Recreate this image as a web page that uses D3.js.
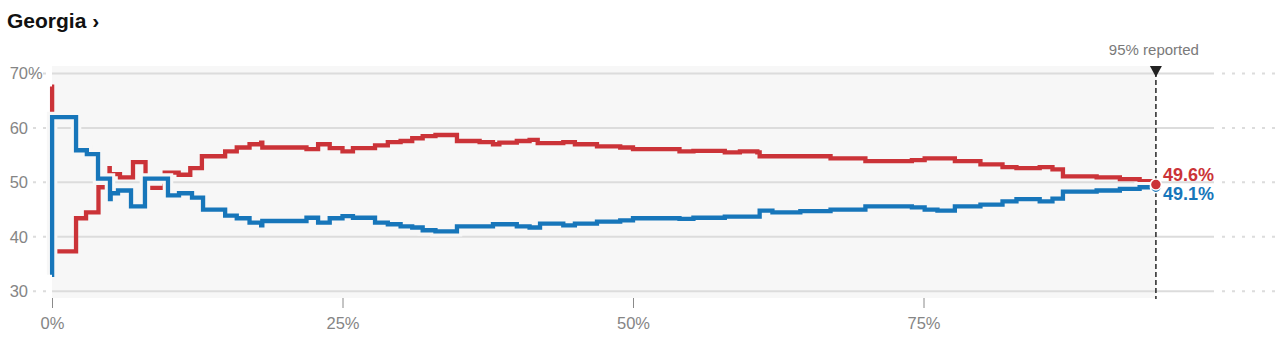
<!DOCTYPE html>
<html>
<head>
<meta charset="utf-8">
<script src="https://cdn.jsdelivr.net/npm/d3@7"></script>
<style>
  body { margin: 0; background: #fff; }
  svg { display: block; font-family: "Liberation Sans", Arial, Helvetica, sans-serif; }
</style>
</head>
<body>
<svg id="chart" width="1280" height="340"></svg>
<script>
// Race title and axis ticks
const stateName = "Georgia";
const yTicks = [30, 40, 50, 60, 70];
const xTicks = [0, 25, 50, 75];
const reportedNow = 95;

// Vote share (%) as the count progressed: [share of expected vote reported, candidate share]
const repSteps = [
  [0, 67.6], [0.01, 37.3], [2.07, 43.4], [2.93, 44.5], [4.0, 49.1], [4.95, 52.6], [4.97, 51.5],
  [5.85, 50.9], [6.97, 53.7], [8.05, 49.0], [9.7, 51.8], [10.9, 51.4], [11.9, 52.6], [12.9, 54.8],
  [14.9, 55.7], [15.9, 56.4], [17.0, 57.0], [18.0, 57.3], [18.1, 56.4], [21.9, 56.1], [22.9, 57.0],
  [23.9, 56.3], [25.0, 55.7], [25.9, 56.3], [27.8, 56.8], [28.9, 57.4], [30.0, 57.6], [31.0, 58.1],
  [31.9, 58.5], [33.0, 58.7], [34.85, 57.6], [36.8, 57.4], [37.95, 57.0], [38.5, 57.3], [40.0, 57.6],
  [41.1, 57.8], [41.8, 57.2], [44.0, 57.4], [45.0, 57.0], [46.9, 56.6], [48.9, 56.4], [50.0, 56.1],
  [54.0, 55.7], [55.2, 55.8], [57.9, 55.5], [59.2, 55.7], [60.7, 55.5], [60.9, 54.8], [67.0, 54.4],
  [70.0, 53.9], [74.0, 54.1], [75.1, 54.4], [77.7, 53.9], [79.9, 53.3], [81.8, 52.8], [83.0, 52.6],
  [85.0, 52.8], [86.1, 52.4], [87.0, 51.1], [89.9, 50.9], [91.9, 50.6], [93.6, 50.2], [95.0, 49.6]
];
const demSteps = [
  [0, 33.0], [0.01, 62.0], [2.07, 55.9], [3.0, 55.2], [3.96, 50.7], [4.99, 46.9], [5.05, 48.0],
  [5.68, 48.5], [6.8, 45.6], [8.0, 50.7], [9.98, 47.6], [10.93, 48.0], [12.05, 47.2], [13.0, 45.0],
  [14.9, 43.9], [15.9, 43.4], [17.0, 42.6], [18.0, 42.1], [18.1, 42.9], [21.9, 43.5], [22.9, 42.6],
  [23.9, 43.4], [25.0, 43.8], [25.9, 43.5], [27.8, 42.6], [28.9, 42.3], [30.0, 41.9], [31.0, 41.7],
  [31.9, 41.2], [33.0, 41.0], [34.85, 41.9], [37.95, 42.3], [40.0, 41.9], [41.1, 41.7], [42.0, 42.4],
  [44.0, 42.1], [45.0, 42.4], [46.9, 42.8], [48.9, 43.0], [50.0, 43.4], [54.0, 43.3], [55.2, 43.5],
  [57.9, 43.7], [60.9, 44.8], [62.0, 44.5], [64.4, 44.7], [67.0, 45.0], [70.0, 45.6], [74.0, 45.4],
  [75.1, 45.0], [76.2, 44.8], [77.7, 45.6], [79.9, 45.9], [81.8, 46.5], [83.0, 46.9], [85.0, 46.5],
  [86.1, 47.0], [87.0, 48.3], [89.9, 48.5], [91.9, 48.8], [93.6, 49.1], [95.0, 49.1]
];

const repColor = "#cb3338";
const demColor = "#1776ba";
const plotBg = "#f7f7f7";
const gridColor = "#dcdcdc";
const labelColor = "#858585";

const svg = d3.select("#chart");
const x = d3.scaleLinear().domain([0, 100]).range([52, 1214]);
const y = d3.scaleLinear().domain([30, 70]).range([291.2, 73.5]);

// Title
svg.append("text")
  .attr("x", 7).attr("y", 28)
  .attr("font-size", 21).attr("font-weight", "bold").attr("fill", "#111")
  .text(stateName + " \u203A");

// Shaded area up to the share reported so far
svg.append("rect")
  .attr("x", x(0)).attr("y", 66)
  .attr("width", x(reportedNow) - x(0)).attr("height", 232)
  .attr("fill", plotBg);

// Horizontal gridlines with dotted lead-ins on both sides
const grid = svg.append("g");
yTicks.forEach(t => {
  grid.append("line")
    .attr("x1", x(0)).attr("x2", x(100)).attr("y1", y(t)).attr("y2", y(t))
    .attr("stroke", gridColor).attr("stroke-width", 2);
  grid.append("line")
    .attr("x1", x(100) + 8).attr("x2", 1280).attr("y1", y(t)).attr("y2", y(t))
    .attr("stroke", gridColor).attr("stroke-width", 2).attr("stroke-dasharray", "3,7");
  grid.append("line")
    .attr("x1", 33).attr("x2", 50).attr("y1", y(t)).attr("y2", y(t))
    .attr("stroke", gridColor).attr("stroke-width", 2).attr("stroke-dasharray", "3,7");
});

// Y labels: numbers right-aligned, percent sign on the top one only
const yLab = svg.append("g").attr("font-size", 16.5).attr("fill", labelColor);
yTicks.forEach(t => {
  yLab.append("text")
    .attr("x", 28).attr("y", y(t)).attr("dy", "0.36em")
    .attr("text-anchor", "end").text(t);
  if (t === d3.max(yTicks)) {
    yLab.append("text")
      .attr("x", 28).attr("y", y(t)).attr("dy", "0.36em").text("%");
  }
});

// X axis
const xAxis = svg.append("g")
  .attr("transform", "translate(0,298)")
  .call(d3.axisBottom(x).tickValues(xTicks).tickSize(10).tickPadding(9).tickFormat(d => d + "%"));
xAxis.select(".domain").remove();
xAxis.selectAll(".tick line").attr("stroke", "#8a8a8a");
xAxis.selectAll(".tick text")
  .attr("fill", labelColor).attr("font-size", 16.5)
  .attr("font-family", "\"Liberation Sans\", Arial, Helvetica, sans-serif");

// Step lines
const line = d3.line()
  .x(d => x(d[0]))
  .y(d => y(d[1]))
  .curve(d3.curveStepAfter);

svg.append("path").datum(repSteps)
  .attr("d", line).attr("fill", "none")
  .attr("stroke", repColor).attr("stroke-width", 4.3);

// Democratic line sits on top with a background-coloured casing
svg.append("path").datum(demSteps)
  .attr("d", line).attr("fill", "none")
  .attr("stroke", plotBg).attr("stroke-width", 10.5);
svg.append("path").datum(demSteps)
  .attr("d", line).attr("fill", "none")
  .attr("stroke", demColor).attr("stroke-width", 4.3);

// "Reported so far" marker
const xr = x(reportedNow);
svg.append("line")
  .attr("x1", xr).attr("x2", xr).attr("y1", 72).attr("y2", 299)
  .attr("stroke", "#333").attr("stroke-width", 1.6).attr("stroke-dasharray", "5,3");
svg.append("path")
  .attr("d", `M${xr - 6},66 L${xr + 6},66 L${xr},77 Z`)
  .attr("fill", "#222");
svg.append("text")
  .attr("x", xr - 2).attr("y", 55)
  .attr("text-anchor", "middle").attr("font-size", 15).attr("fill", "#7a7a7a")
  .text(reportedNow + "% reported");

// End points and their values
const repLast = repSteps[repSteps.length - 1];
const demLast = demSteps[demSteps.length - 1];
svg.append("circle")
  .attr("cx", x(demLast[0])).attr("cy", y(demLast[1])).attr("r", 5.5)
  .attr("fill", demColor).attr("stroke", "#fff").attr("stroke-width", 1.5);
svg.append("circle")
  .attr("cx", x(repLast[0])).attr("cy", y(repLast[1])).attr("r", 5.5)
  .attr("fill", repColor).attr("stroke", "#fff").attr("stroke-width", 1.5);

svg.append("text")
  .attr("x", xr + 7).attr("y", 181)
  .attr("font-size", 18).attr("font-weight", "bold").attr("fill", repColor)
  .text(repLast[1].toFixed(1) + "%");
svg.append("text")
  .attr("x", xr + 7).attr("y", 200)
  .attr("font-size", 18).attr("font-weight", "bold").attr("fill", demColor)
  .text(demLast[1].toFixed(1) + "%");
</script>
</body>
</html>
